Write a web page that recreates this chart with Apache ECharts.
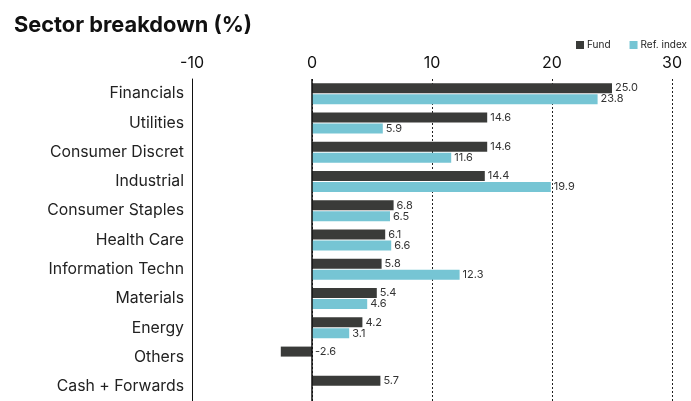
<!DOCTYPE html>
<html><head><meta charset="utf-8">
<script src="https://cdn.jsdelivr.net/npm/echarts@6/dist/echarts.min.js"></script>
<style>html,body{margin:0;padding:0;background:#fff}#c{width:691px;height:401px}</style>
</head><body><div id="c"></div>
<script>
const categories = ["Financials","Utilities","Consumer Discret","Industrial","Consumer Staples","Health Care","Information Techn","Materials","Energy","Others","Cash + Forwards"];
const fundValues = [25.0,14.6,14.6,14.4,6.8,6.1,5.8,5.4,4.2,-2.6,5.7];
const refValues = [23.8,5.9,11.6,19.9,6.5,6.6,12.3,4.6,3.1,null,null];
const xTicks = [-10,0,10,20,30];

const chart = echarts.init(document.getElementById('c'));
const font = 'Inter, "Liberation Sans", sans-serif';
chart.setOption({
  animation:false,
  textStyle:{fontFamily:font},
  title:{text:'Sector breakdown (%)',left:9,top:9,textStyle:{fontSize:21.8,fontWeight:'bold',color:'#111',fontFamily:font}},
  legend:{right:-1,top:35,itemWidth:8,itemHeight:8,itemGap:19,icon:'rect',textStyle:{fontSize:10,color:'#222',padding:[0,0,0,-2]},data:['Fund','Ref. index']},
  grid:{left:192,right:19,top:79,height:325,containLabel:false},
  xAxis:{type:'value',position:'top',min:xTicks[0],max:xTicks[xTicks.length-1],interval:10,
    axisLine:{show:false},axisTick:{show:false},
    axisLabel:{fontSize:16,color:'#111',margin:8},
    splitLine:{show:true,lineStyle:{type:[2,2],color:'#222',width:1}}},
  yAxis:{type:'category',data:categories,inverse:true,
    axisLine:{show:true,onZero:false,lineStyle:{color:'#111',width:1}},
    axisTick:{show:false},axisLabel:{fontSize:15.8,color:'#222',margin:8}},
  series:[
    {name:'Fund',type:'bar',data:fundValues,barWidth:10,barGap:'10%',
      itemStyle:{color:'#3a3b39'},
      label:{show:true,position:'right',distance:3,fontSize:11,color:'#333',formatter:p=>p.value.toFixed(1)},
      markLine:{silent:true,symbol:'none',label:{show:false},lineStyle:{type:'solid',color:'#111',width:1.5},data:[{xAxis:0}]}},
    {name:'Ref. index',type:'bar',data:refValues,barWidth:10,
      itemStyle:{color:'#76c5d4'},
      label:{show:true,position:'right',distance:3,fontSize:11,color:'#333',formatter:p=>p.value==null?'':p.value.toFixed(1)}}
  ]
});
</script></body></html>
